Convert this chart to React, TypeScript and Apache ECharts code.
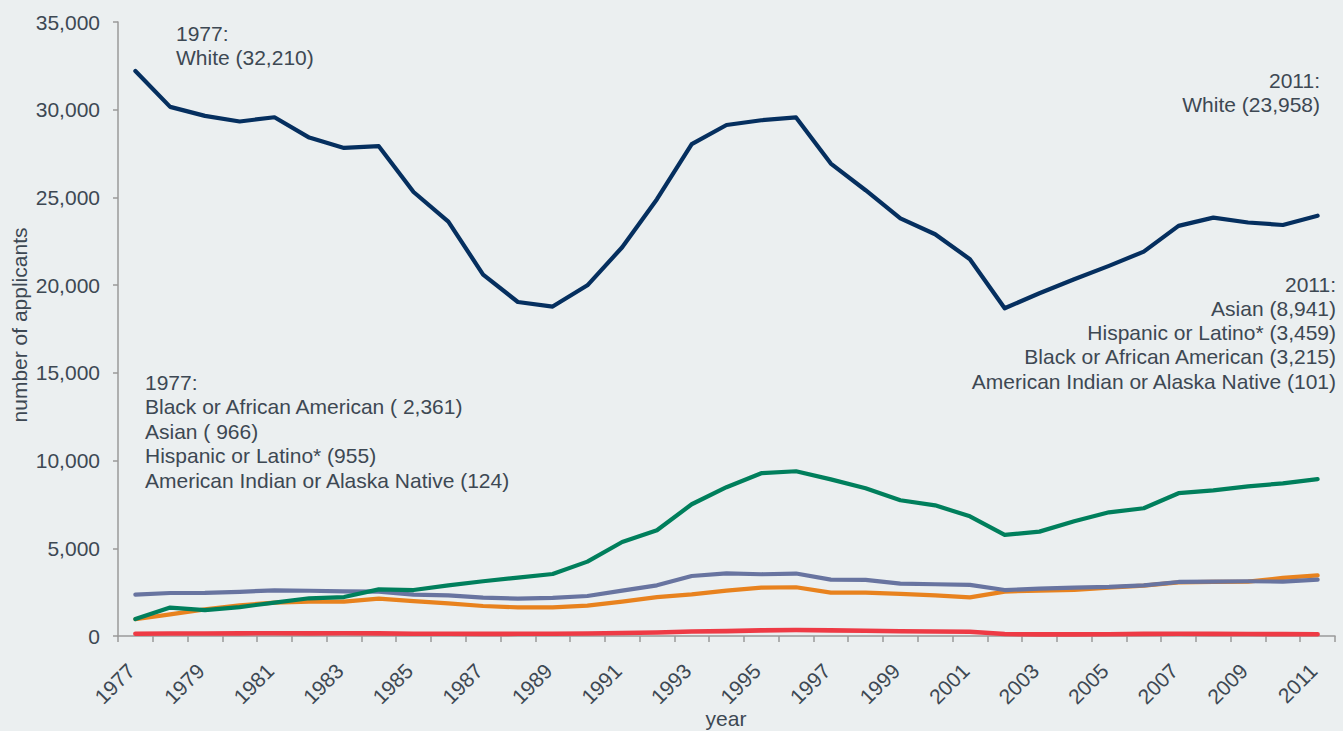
import React, { useEffect, useRef } from "react";
import * as echarts from "echarts";

const years: string[] = [];
for (let y = 1977; y <= 2011; y++) years.push(String(y));

const white = [32210, 30160, 29650, 29330, 29570, 28410, 27820, 27920, 25310, 23620, 20600, 19040, 18780, 19990, 22160, 24900, 28040, 29130, 29400, 29560, 26930, 25410, 23810, 22900, 21480, 18680, 19540, 20340, 21100, 21910, 23380, 23850, 23570, 23430, 23958];
const asian = [966, 1620, 1480, 1650, 1900, 2150, 2220, 2660, 2620, 2890, 3120, 3330, 3535, 4240, 5360, 6030, 7510, 8480, 9280, 9390, 8930, 8420, 7740, 7450, 6820, 5760, 5950, 6540, 7050, 7280, 8140, 8300, 8530, 8700, 8941];
const black = [2361, 2450, 2460, 2520, 2605, 2580, 2540, 2530, 2360, 2320, 2190, 2130, 2170, 2280, 2590, 2890, 3420, 3575, 3520, 3560, 3215, 3200, 2985, 2950, 2910, 2620, 2700, 2760, 2800, 2890, 3080, 3100, 3120, 3100, 3215];
const hispanic = [955, 1235, 1520, 1750, 1900, 1960, 1960, 2130, 1990, 1860, 1710, 1630, 1636, 1730, 1960, 2220, 2375, 2590, 2760, 2780, 2470, 2470, 2400, 2320, 2205, 2530, 2590, 2630, 2760, 2870, 3060, 3080, 3100, 3310, 3459];
const amIndian = [124, 140, 145, 150, 160, 150, 160, 150, 130, 125, 120, 125, 130, 140, 170, 200, 260, 280, 320, 340, 320, 300, 270, 260, 240, 110, 90, 95, 100, 120, 130, 120, 110, 105, 101];

const yTicks = [0, 5000, 10000, 15000, 20000, 25000, 30000, 35000];

const fmt = (v: number) => v.toLocaleString("en-US");

const FONT = '"Liberation Sans", Arial, sans-serif';
const TEXT = "#3D4853";
const FS = 21;

export default function App() {
  const ref = useRef<HTMLDivElement>(null);
  useEffect(() => {
    document.body.style.margin = "0";
    const chart = echarts.init(ref.current!, null, { renderer: "svg" });
    const line = (name: string, data: number[], color: string, width = 4.2) => ({
      name,
      type: "line",
      data,
      symbol: "none",
      lineStyle: { color, width, join: "round", cap: "round" },
      itemStyle: { color },
      z: 3,
    });
    const txt = (text: string, x: number, y: number, align: string, size = FS, rotation = 0) => ({
      type: "text",
      x,
      y,
      rotation,
      style: {
        text,
        fill: TEXT,
        font: `${size}px ${FONT}`,
        textAlign: align,
        textVerticalAlign: "middle",
      },
    });
    const leftLines = [
      "1977:",
      `Black or African American ( ${fmt(black[0])})`,
      `Asian ( ${fmt(asian[0])})`,
      `Hispanic or Latino* (${fmt(hispanic[0])})`,
      `American Indian or Alaska Native (${fmt(amIndian[0])})`,
    ];
    const n = years.length - 1;
    const rightLines = [
      "2011:",
      `Asian (${fmt(asian[n])})`,
      `Hispanic or Latino* (${fmt(hispanic[n])})`,
      `Black or African American (${fmt(black[n])})`,
      `American Indian or Alaska Native (${fmt(amIndian[n])})`,
    ];
    const graphics: any[] = [
      txt("1977:", 176, 33, "left"),
      txt(`White (${fmt(white[0])})`, 176, 57, "left"),
      txt("2011:", 1320, 80, "right"),
      txt(`White (${fmt(white[n])})`, 1320, 104, "right"),
      txt("year", 726, 718, "center"),
      txt("number of applicants", 19, 325, "center", 21, Math.PI / 2),
    ];
    leftLines.forEach((t, i) => graphics.push(txt(t, 145, 382 + i * 24.5, "left")));
    rightLines.forEach((t, i) => graphics.push(txt(t, 1336, 284 + i * 24.3, "right")));

    chart.setOption({
      animation: false,
      backgroundColor: "#EBEFF0",
      textStyle: { fontFamily: FONT },
      grid: { left: 118, right: 8, top: 22, bottom: 95, containLabel: false, outerBoundsMode: "none" },
      xAxis: {
        type: "category",
        data: years,
        boundaryGap: true,
        axisLine: { lineStyle: { color: "#9A9A9A", width: 1.5 } },
        axisTick: { show: true, interval: 0, length: 6, lineStyle: { color: "#9A9A9A", width: 1.5 } },
        axisLabel: {
          interval: 1,
          rotate: 45,
          margin: 27,
          padding: [0, 6, 0, 0],
          color: TEXT,
          fontSize: FS,
          fontFamily: FONT,
        },
        splitLine: { show: false },
      },
      yAxis: {
        type: "value",
        min: yTicks[0],
        max: yTicks[yTicks.length - 1],
        interval: yTicks[1] - yTicks[0],
        axisLine: { show: true, lineStyle: { color: "#9A9A9A", width: 1.5 } },
        axisTick: { show: true, length: 5, lineStyle: { color: "#9A9A9A", width: 1.5 } },
        axisLabel: { margin: 18, color: TEXT, fontSize: FS, fontFamily: FONT, formatter: (v: number) => fmt(v) },
        splitLine: { show: false },
      },
      series: [
        line("American Indian or Alaska Native", amIndian, "#EE3A45", 4.6),
        line("Hispanic or Latino*", hispanic, "#E8821E"),
        line("Black or African American", black, "#6874A0"),
        line("Asian", asian, "#007F5C"),
        line("White", white, "#052F5F"),
      ],
      graphic: graphics,
    });
    return () => chart.dispose();
  }, []);
  return <div ref={ref} style={{ position: "fixed", left: 0, top: 0, width: 1343, height: 731 }} />;
}
